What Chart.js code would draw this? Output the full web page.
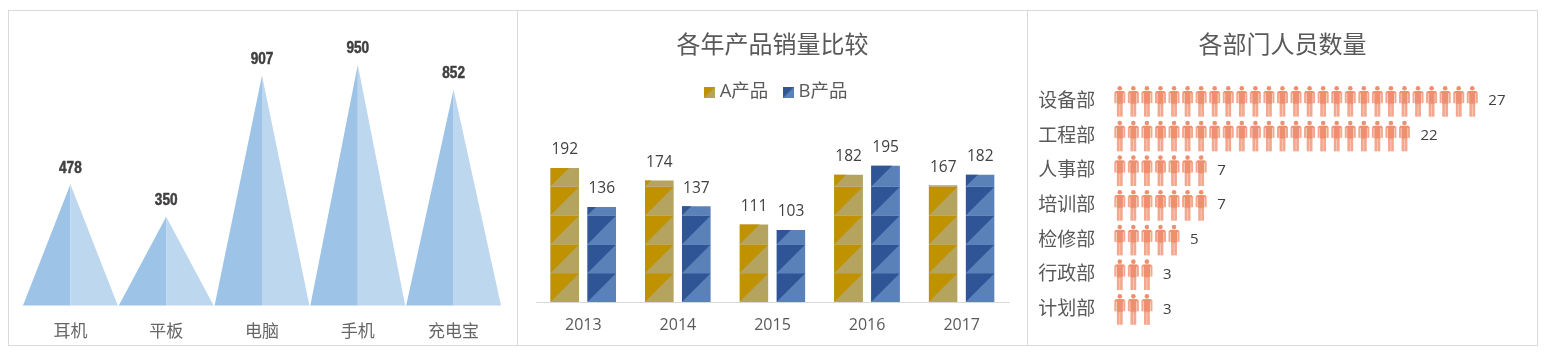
<!DOCTYPE html>
<html>
<head>
<meta charset="utf-8">
<title>charts</title>
<style>
  html, body { margin: 0; padding: 0; background: #fff; }
  .panel { position: absolute; top: 10px; height: 334px; border: 1px solid #d9d9d9; }
  canvas { display: block; }
</style>
<script src="https://cdn.jsdelivr.net/npm/chart.js@4/dist/chart.umd.min.js"></script>
</head>
<body>
<div class="panel" style="left:8px;width:508px"><canvas id="salesChart" width="508" height="334"></canvas></div>
<div class="panel" style="left:517px;width:510px;border-left:none"><canvas id="yearChart" width="510" height="334"></canvas></div>
<div class="panel" style="left:1027px;width:510px;border-left:none"><canvas id="peopleChart" width="510" height="334"></canvas></div>
<script>
const products = ['耳机', '平板', '电脑', '手机', '充电宝'];
const productValues = [478, 350, 907, 950, 852];

const years = ['2013', '2014', '2015', '2016', '2017'];
const productA = [192, 174, 111, 182, 167];
const productB = [136, 137, 103, 195, 182];

const departments = ['设备部', '工程部', '人事部', '培训部', '检修部', '行政部', '计划部'];
const headcount = [27, 22, 7, 7, 5, 3, 3];

const FONT = '"Open Sans", "Noto Sans CJK SC", sans-serif';
const GREY = '#595959';
const DARK = '#404040';

Chart.defaults.animation = false;
Chart.defaults.responsive = false;
Chart.defaults.font.family = FONT;

// triangles instead of bars, half dark half light
const trianglePlugin = {
  id: 'triangles',
  afterDatasetsDraw(chart) {
    const c = chart.ctx;
    chart.getDatasetMeta(0).data.forEach((bar, i) => {
      const half = bar.width / 2;
      c.fillStyle = '#9dc3e6';
      c.beginPath();
      c.moveTo(bar.x - half, bar.base);
      c.lineTo(bar.x, bar.y);
      c.lineTo(bar.x, bar.base);
      c.fill();
      c.fillStyle = '#bdd7ee';
      c.beginPath();
      c.moveTo(bar.x + half, bar.base);
      c.lineTo(bar.x, bar.y);
      c.lineTo(bar.x, bar.base);
      c.fill();
      // no condensed font installed, squeeze the bold one
      c.save();
      c.translate(bar.x, bar.y - 16);
      c.scale(0.85, 1);
      c.fillStyle = DARK;
      c.strokeStyle = DARK;
      c.lineWidth = 0.5;
      c.font = 'bold 16px "Liberation Sans", sans-serif';
      c.textAlign = 'center';
      c.textBaseline = 'middle';
      c.fillText(productValues[i], 0, 0);
      c.strokeText(productValues[i], 0, 0);
      c.restore();
    });
  }
};

function paintTile(c, x, y, size, dark, light) {
  c.fillStyle = light;
  c.fillRect(x, y, size, size);
  c.fillStyle = dark;
  c.beginPath();
  c.moveTo(x, y);
  c.lineTo(x + size, y);
  c.lineTo(x, y + size);
  c.fill();
}

const tileColors = [['#c09200', '#b5a45f'], ['#2f5597', '#5b82b8']];

// bars filled with a tile that starts from the bottom left of each bar
const tilePlugin = {
  id: 'tiles',
  afterLayout(chart) {
    // legend sits a bit right of the title in the original
    chart.legend.left += 6;
    chart.legend.right += 6;
  },
  afterDatasetsDraw(chart) {
    const c = chart.ctx;
    chart.data.datasets.forEach((ds, d) => {
      chart.getDatasetMeta(d).data.forEach((bar, i) => {
        const left = bar.x - bar.width / 2;
        c.save();
        c.beginPath();
        c.rect(left, bar.y, bar.width, bar.base - bar.y);
        c.clip();
        for (let y = bar.base - 28.8; y > bar.y - 28.8; y -= 28.8) {
          paintTile(c, left, y, 28.8, tileColors[d][0], tileColors[d][1]);
        }
        c.restore();
        c.fillStyle = DARK;
        c.font = '15.5px ' + FONT;
        c.textAlign = 'center';
        c.textBaseline = 'middle';
        c.fillText(ds.data[i], bar.x, bar.y - 18);
      });
    });
  }
};

function legendSwatch(d) {
  const sw = document.createElement('canvas');
  sw.width = 11;
  sw.height = 11;
  paintTile(sw.getContext('2d'), 0, 0, 11, tileColors[d][0], tileColors[d][1]);
  return sw;
}

function paintPerson(c, x, y) {
  c.fillStyle = '#f3a78e';
  c.fillRect(x, y + 6.5, 2, 11);
  c.fillRect(x + 9, y + 6.5, 2, 11);
  c.fillRect(x + 2.6, y + 17, 5.8, 14);
  c.fillStyle = '#fbdccf';
  c.fillRect(x + 5.2, y + 19, 0.6, 12);
  c.fillStyle = '#ee8f70';
  c.fillRect(x + 2.4, y + 5.5, 6.2, 12.5);
  c.fillRect(x + 1, y + 5.5, 9, 2);
  c.beginPath();
  c.arc(x + 5.5, y + 2.6, 2.3, 0, Math.PI * 2);
  c.fill();
}

// one person per unit along each bar
const peoplePlugin = {
  id: 'people',
  afterLayout(chart) {
    // title is centred a bit right of the panel centre
    chart.titleBlock.left += 9;
    chart.titleBlock.right += 9;
  },
  afterDatasetsDraw(chart) {
    const c = chart.ctx;
    const xs = chart.scales.x;
    chart.getDatasetMeta(0).data.forEach((bar, i) => {
      const n = headcount[i];
      for (let k = 0; k < n; k++) {
        paintPerson(c, xs.getPixelForValue(k) + 1, bar.y - 14.5);
      }
      c.fillStyle = DARK;
      c.font = '15px ' + FONT;
      c.textAlign = 'left';
      c.textBaseline = 'middle';
      c.fillText(n, bar.x + 9, bar.y + 1);
    });
  }
};

new Chart(document.getElementById('salesChart'), {
  type: 'bar',
  data: {
    labels: products,
    datasets: [{ data: productValues, backgroundColor: 'transparent', categoryPercentage: 1, barPercentage: 0.99 }]
  },
  options: {
    layout: { padding: { left: 13.5, right: 15.5, top: 41, bottom: 0 } },
    plugins: { legend: { display: false }, tooltip: { enabled: false } },
    scales: {
      x: {
        afterFit(s) { s.height = 39.5; },
        grid: { display: false, drawTicks: false },
        border: { display: false },
        ticks: { color: '#666666', font: { size: 17 }, padding: 16 }
      },
      y: { display: false, min: 0, max: 1000 }
    }
  },
  plugins: [trianglePlugin]
});

new Chart(document.getElementById('yearChart'), {
  type: 'bar',
  data: {
    labels: years,
    datasets: [
      { label: 'A产品', data: productA, backgroundColor: 'transparent', categoryPercentage: 0.782, barPercentage: 0.784 },
      { label: 'B产品', data: productB, backgroundColor: 'transparent', categoryPercentage: 0.782, barPercentage: 0.784 }
    ]
  },
  options: {
    layout: { padding: { left: 19, right: 18, top: 0, bottom: 0 } },
    plugins: {
      tooltip: { enabled: false },
      title: {
        display: true,
        text: '各年产品销量比较',
        color: GREY,
        font: { size: 24, weight: 'normal' },
        padding: { top: 21, bottom: 2 }
      },
      legend: {
        labels: {
          color: GREY,
          font: { size: 18.5 },
          usePointStyle: true,
          boxWidth: 1,
          boxHeight: 11,
          padding: 20,
          generateLabels: chart => chart.data.datasets.map((ds, d) => ({
            text: ds.label,
            pointStyle: legendSwatch(d),
            datasetIndex: d,
            fontColor: GREY,
            lineWidth: 0
          }))
        }
      }
    },
    scales: {
      x: {
        afterFit(s) { s.height = 43; },
        grid: { display: false, drawTicks: false },
        border: { color: '#d9d9d9' },
        ticks: { color: GREY, font: { size: 16 }, padding: 14 }
      },
      y: { display: false, min: 0, max: 273 }
    }
  },
  plugins: [tilePlugin]
});

new Chart(document.getElementById('peopleChart'), {
  type: 'bar',
  data: {
    labels: departments,
    datasets: [{ data: headcount, backgroundColor: 'transparent', categoryPercentage: 1, barPercentage: 0.9 }]
  },
  options: {
    indexAxis: 'y',
    layout: { padding: { left: 0, right: 17, top: 0, bottom: 19.4 } },
    plugins: {
      legend: { display: false },
      tooltip: { enabled: false },
      title: {
        display: true,
        text: '各部门人员数量',
        color: GREY,
        font: { size: 24, weight: 'normal' },
        padding: { top: 21, bottom: 22 }
      }
    },
    scales: {
      x: { display: false, min: 0, max: 30 },
      y: {
        afterFit(s) {
          s.width = 86.3;
          // tick padding would otherwise eat the plot height
          s.paddingTop = 0;
          s.paddingBottom = 0;
        },
        grid: { display: false, drawTicks: false },
        border: { display: false },
        ticks: { color: GREY, font: { size: 19 }, padding: 18, labelOffset: 1.5 }
      }
    }
  },
  plugins: [peoplePlugin]
});
</script>
</body>
</html>
